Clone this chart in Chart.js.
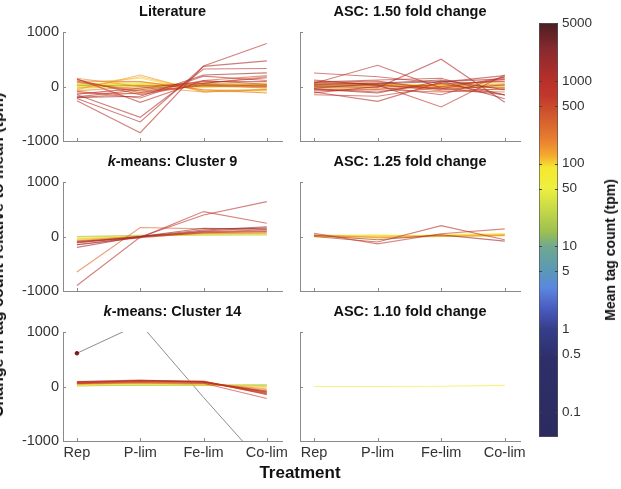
<!DOCTYPE html>
<html>
<head>
<meta charset="utf-8">
<script src="https://cdn.jsdelivr.net/npm/chart.js@4"></script>
<style>
  body { margin: 0; background: #fff; }
  #wrap { position: relative; width: 621px; height: 489px; overflow: hidden; font-family: "Liberation Sans", Arial, sans-serif; }
  canvas { position: absolute; }
  .lbl { position: absolute; font-weight: bold; color: #111; white-space: nowrap; }
</style>
</head>
<body>
<div id="wrap">
  <canvas id="lit" width="291" height="168" style="left:3px;top:3px"></canvas>
  <canvas id="asc150" width="292" height="168" style="left:240px;top:3px"></canvas>
  <canvas id="km9" width="291" height="168" style="left:3px;top:153px"></canvas>
  <canvas id="asc125" width="292" height="168" style="left:240px;top:153px"></canvas>
  <canvas id="km14" width="291" height="168" style="left:3px;top:303px"></canvas>
  <canvas id="asc110" width="292" height="168" style="left:240px;top:303px"></canvas>
  <canvas id="cbar" width="80" height="489" style="left:530px;top:0px"></canvas>
  <div class="lbl" style="left:-2px;top:255px;font-size:16px;transform:translate(-50%,-50%) rotate(-90deg)">Change in tag count relative to mean (tpm)</div>
  <div class="lbl" style="left:200px;width:200px;top:462px;line-height:22px;text-align:center;font-size:17px">Treatment</div>
  <div class="lbl" style="left:610px;top:250px;font-size:14px;transform:translate(-50%,-50%) rotate(-90deg)">Mean tag count (tpm)</div>
</div>
<script>
const categories = ['Rep', 'P-lim', 'Fe-lim', 'Co-lim'];
const yTicks = [-1000, 0, 1000];
const cbarTicks = [0.1, 0.5, 1, 5, 10, 50, 100, 500, 1000, 5000];
const cbarRange = [0.05, 5000];

// colour scale (jet-like) : mean tag count -> colour
const cmapValues = [0.05, 0.45, 1, 1.8, 3.2, 5, 10, 15, 51, 89, 127, 193, 660, 1000, 2360, 5000];
const cmapColors = ['#2c2b60', '#2e2f6a', '#363e8a', '#4a5cc0', '#5a88e0', '#5a98b8', '#70a890', '#9cc050',
  '#eef040', '#f5e830', '#f4a830', '#e88030', '#c0382c', '#b8302a', '#8a2a2e', '#4a1e22'];

// profiles: change relative to mean (tpm) at Rep, P-lim, Fe-lim, Co-lim
const literatureProfiles = [
  [-260, -848, 375, 790], [-220, -650, 370, 470], [-150, -565, 320, 330], [140, -290, 110, 40],
  [130, -150, 40, 10], [-200, -180, 210, 250], [-210, -110, 110, 200], [-190, -60, 60, 160],
  [-120, -130, 60, 180], [-140, -30, 90, 90], [-90, -210, 190, 110], [100, -110, 20, 0],
  [80, -80, 10, -20], [150, 0, -100, -50], [100, 90, -60, -120], [-60, 210, -100, -60],
  [-40, 180, -80, -70], [60, 150, -90, -100], [40, 90, -60, -60], [-80, 0, 60, 30],
  [50, -50, 60, -40], [-60, 60, -20, 20], [0, -30, 40, 10], [-20, 20, -10, 20],
  [30, 40, 30, 40], [40, 50, 30, 50], [35, 45, 40, 45], [50, 40, 45, 35],
  [20, 20, 15, 25], [15, 20, 20, 20], [20, 15, 20, 15], [18, 18, 22, 18], [22, 20, 18, 22]
];
const literatureCounts = [800, 1200, 900, 700, 600, 1500, 400, 1100, 300, 1000, 650, 450, 350, 180, 250,
  150, 120, 100, 110, 200, 90, 60, 80, 140, 70, 60, 75, 65, 11, 10, 12, 9, 11];

const asc150Profiles = [
  [248, 180, 60, 90], [60, 390, -30, -150], [0, -20, 500, -290], [20, 30, -376, 212],
  [-100, -273, 80, 200], [-150, -180, 0, 130], [-50, -120, 100, -224], [80, 120, 150, -160],
  [40, 60, 120, -60], [-120, 0, -150, 180], [100, 40, -80, -100], [-60, -50, 40, 100],
  [70, 100, -60, 30], [-40, -100, 60, -150], [-80, -60, -100, -40], [120, 20, -40, 170],
  [-30, 50, 90, 140], [30, 80, -40, -60], [-30, -40, -20, 50], [50, 30, 40, 60],
  [-20, 0, 10, -30], [60, 40, 0, -20], [40, 30, 20, 30], [-10, 10, -20, -10],
  [10, 20, 30, 10], [15, 25, 20, 15]
];
const asc150Counts = [800, 900, 1200, 700, 1000, 600, 1500, 800, 2500, 1100, 400, 300, 1000, 700, 500,
  900, 1300, 200, 150, 70, 90, 250, 110, 160, 30, 40];

const cluster9Profiles = [
  [-900, -10, 395, 640], [-650, 165, 140, 150], [-150, -20, 457, 244], [-200, 0, 120, 180],
  [-150, -10, 100, 160], [-120, -10, 90, 120], [-100, 0, 80, 100], [-110, 0, 150, 130],
  [-90, -20, 70, 90], [-80, 10, 60, 70], [-50, 0, 50, 60], [-60, 0, 40, 50],
  [-30, 0, 40, 40], [-40, 10, 50, 50], [-10, 10, 30, 40], [0, 20, 30, 30]
];
const cluster9Counts = [900, 300, 700, 1500, 1000, 600, 400, 2000, 800, 200, 120, 80, 60, 70, 25, 15];

const asc125Profiles = [
  [0, -100, 200, -60], [60, -135, 50, 140], [20, -60, 30, -85], [30, -20, 0, 20], [10, 0, 20, 40],
  [5, 5, 15, 35], [0, 10, 10, 30], [-10, -30, 40, 50], [20, 30, 0, 10], [10, 15, 20, 45]
];
const asc125Counts = [1000, 600, 1500, 200, 100, 110, 60, 80, 40, 90];

const cluster14Profiles = [
  [80, 100, 90, -120], [60, 110, 80, -90], [70, 90, 100, -150], [90, 120, 80, -100],
  [60, 70, 60, -220], [75, 95, 85, -130], [65, 105, 95, -110], [85, 110, 90, -140],
  [50, 80, 70, -60], [50, 90, 60, -80], [40, 60, 50, -40], [40, 70, 30, 0],
  [30, 50, 40, -20], [20, 40, 30, 10], [10, 30, 20, 20], [15, 25, 25, 30]
];
const cluster14Counts = [500, 700, 300, 1000, 600, 400, 250, 800, 200, 300, 150, 120, 90, 60, 20, 15];
const cluster14Outlier = [610, 1150, -200, -1500];

const asc110Profiles = [[0, 0, 5, 20]];
const asc110Counts = [70];

const FONT = '"Liberation Sans", Arial, sans-serif';
const axisColor = '#8a8a8a';

function hexRgb(h) {
  const n = parseInt(h.slice(1), 16);
  return [n >> 16, (n >> 8) & 255, n & 255];
}

function countColor(n, alpha) {
  const ls = cmapValues.map(Math.log10);
  const l = Math.log10(n);
  let i = 0;
  while (i < ls.length - 2 && l > ls[i + 1]) i++;
  const t = Math.min(1, Math.max(0, (l - ls[i]) / (ls[i + 1] - ls[i])));
  const a = hexRgb(cmapColors[i]), b = hexRgb(cmapColors[i + 1]);
  const c = a.map((v, k) => Math.round(v + (b[k] - v) * t));
  return `rgba(${c[0]},${c[1]},${c[2]},${alpha})`;
}

// small tick marks pointing into the plot, like matlab
const inTicks = {
  id: 'inTicks',
  afterDraw(chart, args, opts) {
    const { ctx, chartArea: a } = chart;
    const len = opts.len || 3;
    ctx.save();
    ctx.strokeStyle = opts.color || axisColor;
    ctx.lineWidth = 1;
    ctx.beginPath();
    Object.values(chart.scales).forEach(s => {
      if (!s.options.display) return;
      s.ticks.forEach(t => {
        const p = Math.round(s.getPixelForValue(t.value)) + 0.5;
        if (s.isHorizontal()) {
          ctx.moveTo(p, a.bottom);
          ctx.lineTo(p, a.bottom - len);
        } else {
          ctx.moveTo(a.left, p);
          ctx.lineTo(a.left + len, p);
          if (opts.both) {
            ctx.moveTo(a.right, p);
            ctx.lineTo(a.right - len, p);
          }
        }
      });
    });
    ctx.stroke();
    ctx.restore();
  }
};

// panel title, with italic "k" for the k-means panels
const panelTitle = {
  id: 'panelTitle',
  afterDraw(chart, args, opts) {
    const { ctx, chartArea: a } = chart;
    const m = opts.text.match(/^k(-.*)$/);
    const parts = m ? [['k', true], [m[1], false]] : [[opts.text, false]];
    ctx.save();
    ctx.fillStyle = '#111';
    ctx.textBaseline = 'middle';
    const fonts = parts.map(p => (p[1] ? 'italic ' : '') + 'bold 14.5px ' + FONT);
    let w = 0;
    parts.forEach((p, i) => { ctx.font = fonts[i]; w += ctx.measureText(p[0]).width; });
    let x = (a.left + a.right) / 2 - w / 2;
    parts.forEach((p, i) => {
      ctx.font = fonts[i];
      ctx.fillText(p[0], x, a.top - 20.5);
      x += ctx.measureText(p[0]).width;
    });
    ctx.restore();
  }
};

function makePanel(id, title, profiles, counts, showX, showY, extra) {
  const order = counts.map((c, i) => i).sort((a, b) => counts[b] - counts[a]);
  const datasets = order.map(i => ({
    data: profiles[i].map((v, j) => ({ x: j, y: v })),
    borderColor: countColor(counts[i], 0.62),
    borderWidth: 1.1,
    pointRadius: 0,
    tension: 0
  }));
  if (extra) datasets.push(extra);

  new Chart(document.getElementById(id), {
    type: 'line',
    data: { datasets },
    options: {
      responsive: false,
      animation: false,
      events: [],
      layout: { padding: { top: 29, right: 12 } },
      plugins: {
        legend: { display: false },
        tooltip: { enabled: false },
        panelTitle: { text: title },
        inTicks: { len: 3 }
      },
      scales: {
        x: {
          type: 'linear',
          min: -0.22,
          max: 3.24,
          afterBuildTicks: s => { s.ticks = categories.map((c, i) => ({ value: i })); },
          afterFit: s => { s.height = 30; },
          grid: { display: false, drawTicks: false },
          border: { color: axisColor },
          ticks: {
            padding: 3, maxRotation: 0, autoSkip: false, color: '#333',
            font: { family: FONT, size: 14.5 },
            callback: v => (showX ? categories[v] : '')
          }
        },
        y: {
          min: -1000,
          max: 1000,
          afterBuildTicks: s => { s.ticks = yTicks.map(v => ({ value: v })); },
          afterFit: s => { s.width = 60; },
          grid: { display: false, drawTicks: false },
          border: { color: axisColor },
          ticks: {
            padding: 4, color: '#333',
            font: { family: FONT, size: 14.5 },
            callback: v => (showY ? String(v) : '')
          }
        }
      }
    },
    plugins: [panelTitle, inTicks]
  });
}

makePanel('lit', 'Literature', literatureProfiles, literatureCounts, false, true);
makePanel('asc150', 'ASC: 1.50 fold change', asc150Profiles, asc150Counts, false, false);
makePanel('km9', 'k-means: Cluster 9', cluster9Profiles, cluster9Counts, false, true);
makePanel('asc125', 'ASC: 1.25 fold change', asc125Profiles, asc125Counts, false, false);
makePanel('km14', 'k-means: Cluster 14', cluster14Profiles, cluster14Counts, true, true, {
  data: cluster14Outlier.map((v, j) => ({ x: j, y: v })),
  borderColor: 'rgba(120,120,120,0.85)',
  borderWidth: 1,
  pointRadius: [1.8, 0, 0, 0],
  pointBackgroundColor: '#7a1a1a',
  pointBorderColor: '#7a1a1a',
  tension: 0
});
makePanel('asc110', 'ASC: 1.10 fold change', asc110Profiles, asc110Counts, true, false);

// colour bar
new Chart(document.getElementById('cbar'), {
  type: 'bar',
  data: {
    labels: [''],
    datasets: [{
      data: [cbarRange],
      backgroundColor(c) {
        const chart = c.chart;
        const a = chart.chartArea;
        if (!a) return null;
        const y = chart.scales.y;
        const g = chart.ctx.createLinearGradient(0, a.bottom, 0, a.top);
        cmapValues.forEach((v, i) => {
          const f = (a.bottom - y.getPixelForValue(v)) / (a.bottom - a.top);
          g.addColorStop(Math.min(1, Math.max(0, f)), cmapColors[i]);
        });
        return g;
      },
      borderColor: '#555',
      borderWidth: 1,
      borderSkipped: false,
      barPercentage: 1,
      categoryPercentage: 1
    }]
  },
  options: {
    responsive: false,
    animation: false,
    events: [],
    layout: { padding: { left: 9, top: 23, bottom: 52, right: 12 } },
    plugins: {
      legend: { display: false },
      tooltip: { enabled: false },
      inTicks: { len: 3, both: true, color: '#444' }
    },
    scales: {
      x: { display: false },
      y: {
        type: 'logarithmic',
        position: 'right',
        min: cbarRange[0],
        max: cbarRange[1],
        afterBuildTicks: s => { s.ticks = cbarTicks.map(v => ({ value: v })); },
        afterFit: s => { s.width = 40; },
        grid: { display: false, drawTicks: false },
        border: { display: false },
        ticks: { padding: 4, color: '#333', font: { family: FONT, size: 13.5 }, callback: v => String(v) }
      }
    }
  },
  plugins: [inTicks]
});
</script>
</body>
</html>
